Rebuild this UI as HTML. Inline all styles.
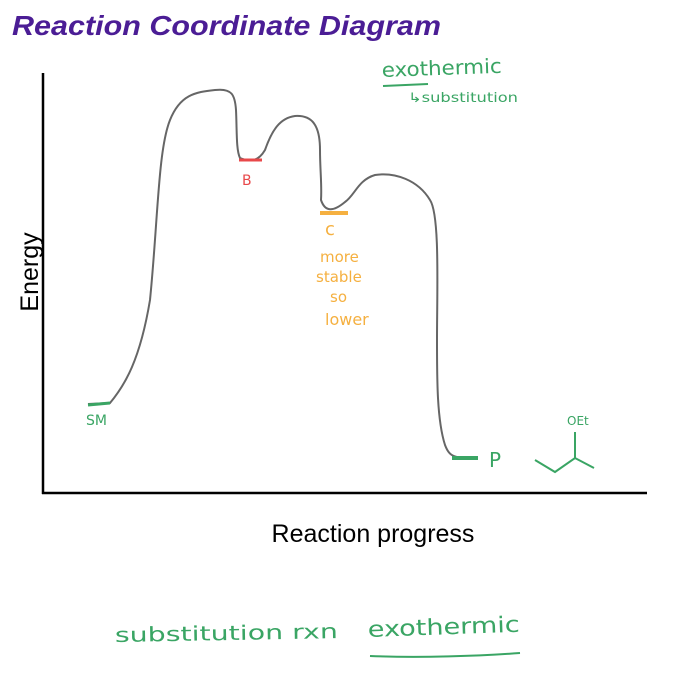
<!DOCTYPE html>
<html><head><meta charset="utf-8"><style>
body{margin:0;background:#fff;width:680px;height:681px;overflow:hidden}
</style></head><body>
<svg width="680" height="681" viewBox="0 0 680 681" xmlns="http://www.w3.org/2000/svg">
<text x="12" y="35" font-family="Liberation Sans, sans-serif" font-size="28" font-weight="bold" font-style="italic" fill="#4b1d95" textLength="429" lengthAdjust="spacingAndGlyphs">Reaction Coordinate Diagram</text>
<line x1="43" y1="73" x2="43" y2="494" stroke="#000" stroke-width="2.5"/>
<line x1="42" y1="493" x2="647" y2="493" stroke="#000" stroke-width="2.5"/>
<text x="38" y="272" font-family="Liberation Sans, sans-serif" font-size="25" transform="rotate(-90 38 272)" text-anchor="middle">Energy</text>
<text x="373" y="542" font-family="Liberation Sans, sans-serif" font-size="25" text-anchor="middle">Reaction progress</text>
<path d="M88,404 L110,403 C125,385 140,360 150,300 C158,220 158,150 170,120 C180,95 195,92 215,90 C232,88 235,95 236,110 C237,130 236,150 240,158 C250,162 258,162 265,150 C272,130 280,118 295,116 C312,115 320,125 320,150 C320,170 322,185 321,200 C325,212 333,212 345,202 C355,195 358,180 375,175 C395,172 418,180 430,200 C440,215 437,290 437,340 C437,380 437,420 445,445 C450,458 455,458 477,458" fill="none" stroke="#666" stroke-width="2"/>
<line x1="88" y1="405" x2="110" y2="403" stroke="#3aa564" stroke-width="3"/>
<line x1="239" y1="160" x2="262" y2="160" stroke="#e8484a" stroke-width="3"/>
<line x1="320" y1="213" x2="348" y2="213" stroke="#f5b040" stroke-width="4"/>
<line x1="452" y1="458" x2="478" y2="458" stroke="#3aa564" stroke-width="4"/>
<g font-family="DejaVu Sans, sans-serif">
<text x="242" y="185" font-size="14" fill="#e8484a">B</text>
<text x="325" y="235" font-size="18" fill="#f5b040">c</text>
<text x="320" y="262" font-size="15" fill="#f5b040">more</text>
<text x="316" y="282" font-size="15" fill="#f5b040">stable</text>
<text x="330" y="302" font-size="15" fill="#f5b040">so</text>
<text x="325" y="325" font-size="16" fill="#f5b040">lower</text>
<text x="86" y="425" font-size="14" fill="#3aa564">SM</text>
<text x="489" y="467" font-size="20" fill="#3aa564">P</text>
<text x="382" y="77" font-size="20" fill="#3aa564" transform="rotate(-2 382 77)" textLength="120" lengthAdjust="spacingAndGlyphs">exothermic</text>
<line x1="383" y1="86" x2="428" y2="84" stroke="#3aa564" stroke-width="2"/>
<text x="408" y="102" font-size="13" fill="#3aa564" textLength="110" lengthAdjust="spacingAndGlyphs">↳substitution</text>
<text x="567" y="425" font-size="12" fill="#3aa564">OEt</text>
<path d="M535,460 L555,472 L575,458 L594,468 M575,458 L575,432" fill="none" stroke="#3aa564" stroke-width="2"/>
<text x="115" y="642" font-size="20" fill="#3aa564" transform="rotate(-1 115 642)" textLength="223" lengthAdjust="spacingAndGlyphs">substitution  rxn</text>
<text x="368" y="637" font-size="22" fill="#3aa564" transform="rotate(-2 368 637)" textLength="152" lengthAdjust="spacingAndGlyphs">exothermic</text>
<path d="M370,656 C420,658 480,656 520,653" fill="none" stroke="#3aa564" stroke-width="2"/>
</g>
</svg>
</body></html>
